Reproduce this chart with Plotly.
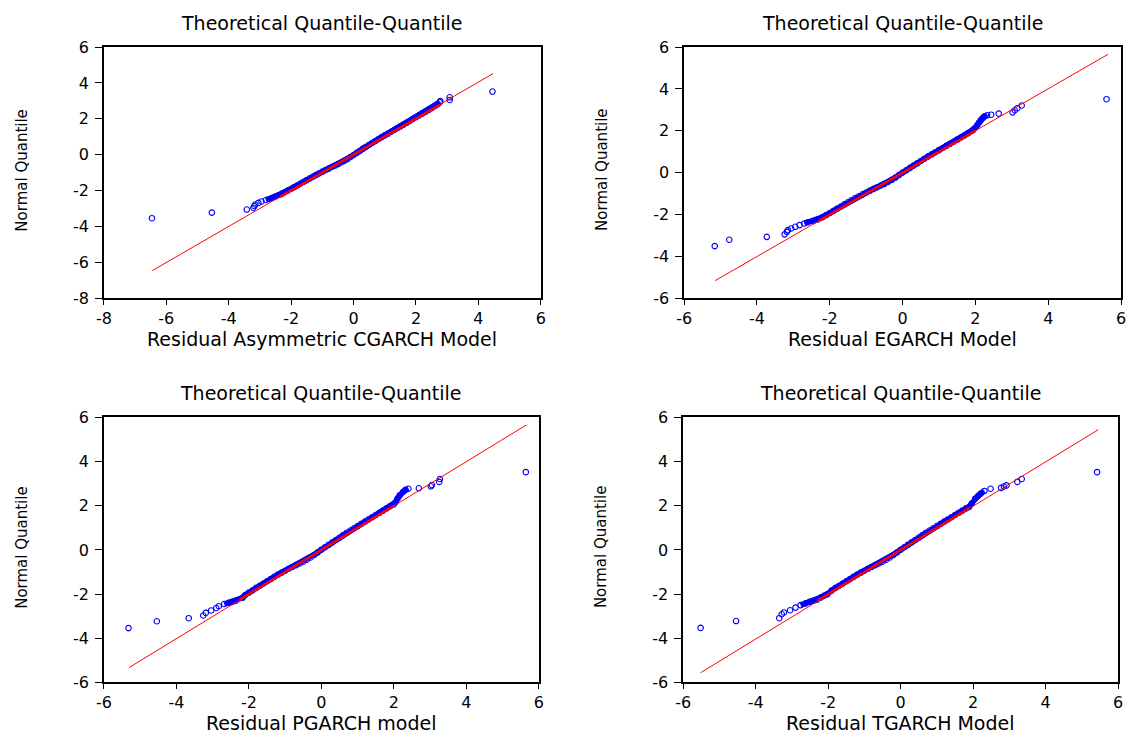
import plotly.graph_objects as go

# ---------------------------------------------------------------
# Q-Q data: sorted model residuals (x) against normal quantiles (y)
# ---------------------------------------------------------------

# Asymmetric CGARCH
cgarch_resid = [-6.46, -4.54, -3.42, -3.21, -3.18, -3.15, -3.05, -2.95, -2.81, -2.70,
                -2.60, -2.50, -2.40, -2.30, -2.20, -2.10, -2.00, -1.90, -1.80, -1.70,
                -1.60, -1.50, -1.40, -1.30, -1.20, -1.10, -1.00, -0.90, -0.80, -0.70,
                -0.60, -0.50, -0.40, -0.30, -0.20, -0.10, 0.00, 0.10, 0.20, 0.30,
                0.40, 0.50, 0.60, 0.70, 0.80, 0.90, 1.00, 1.10, 1.20, 1.30,
                1.40, 1.50, 1.60, 1.70, 1.80, 1.90, 2.00, 2.10, 2.20, 2.30,
                2.40, 2.50, 2.60, 2.70, 2.76, 2.78, 3.08, 3.08, 4.45]
cgarch_normq = [-3.53, -3.22, -3.05, -2.95, -2.85, -2.77, -2.68, -2.60, -2.52, -2.46,
                -2.39, -2.32, -2.24, -2.16, -2.07, -1.98, -1.89, -1.80, -1.70, -1.60,
                -1.50, -1.41, -1.31, -1.21, -1.12, -1.03, -0.94, -0.85, -0.77, -0.68,
                -0.60, -0.52, -0.43, -0.34, -0.24, -0.12, -0.01, 0.11, 0.22, 0.34,
                0.45, 0.56, 0.67, 0.77, 0.88, 0.98, 1.08, 1.18, 1.28, 1.38,
                1.48, 1.58, 1.68, 1.78, 1.88, 1.99, 2.09, 2.19, 2.29, 2.39,
                2.49, 2.59, 2.70, 2.82, 2.93, 2.99, 3.05, 3.20, 3.52]
cgarch_line_x = [-6.45, 4.47]
cgarch_line_y = [-6.45, 4.52]
cgarch_core_x = [-2.35, 2.75]
cgarch_core_y = [-2.35, 2.76]
cgarch_dense = [-2.85, 2.76]

# EGARCH
egarch_resid = [-5.16, -4.76, -3.73, -3.24, -3.18, -3.15, -3.06, -2.95, -2.83, -2.70,
                -2.60, -2.45, -2.33, -2.20, -2.10, -2.00, -1.90, -1.80, -1.70, -1.60,
                -1.50, -1.40, -1.30, -1.20, -1.10, -1.00, -0.90, -0.80, -0.70, -0.60,
                -0.50, -0.40, -0.30, -0.20, -0.10, 0.00, 0.10, 0.20, 0.30, 0.40,
                0.50, 0.60, 0.70, 0.80, 0.90, 1.00, 1.10, 1.20, 1.30, 1.40,
                1.50, 1.60, 1.70, 1.80, 1.90, 1.95, 2.00, 2.05, 2.10, 2.15,
                2.20, 2.25, 2.32, 2.43, 2.64, 3.02, 3.08, 3.15, 3.27, 5.60]
egarch_normq = [-3.50, -3.20, -3.06, -2.94, -2.82, -2.74, -2.66, -2.58, -2.50, -2.42,
                -2.36, -2.30, -2.23, -2.12, -2.02, -1.92, -1.82, -1.71, -1.61, -1.51,
                -1.41, -1.31, -1.21, -1.12, -1.03, -0.94, -0.85, -0.77, -0.69, -0.61,
                -0.53, -0.44, -0.34, -0.23, -0.11, 0.01, 0.12, 0.23, 0.34, 0.45,
                0.56, 0.67, 0.78, 0.88, 0.98, 1.08, 1.18, 1.28, 1.38, 1.48,
                1.58, 1.68, 1.78, 1.89, 2.00, 2.07, 2.16, 2.27, 2.40, 2.52,
                2.62, 2.69, 2.74, 2.77, 2.82, 2.88, 2.98, 3.08, 3.21, 3.51]
egarch_line_x = [-5.15, 5.64]
egarch_line_y = [-5.15, 5.65]
egarch_core_x = [-2.30, 2.00]
egarch_core_y = [-2.30, 2.00]
egarch_dense = [-2.75, 2.33]

# PGARCH
pgarch_resid = [-5.32, -4.54, -3.66, -3.26, -3.19, -3.04, -2.90, -2.83, -2.68, -2.56,
                -2.46, -2.36, -2.17, -2.10, -2.00, -1.90, -1.80, -1.70, -1.60, -1.50,
                -1.40, -1.30, -1.20, -1.10, -1.00, -0.90, -0.80, -0.70, -0.60, -0.50,
                -0.40, -0.30, -0.20, -0.10, 0.00, 0.10, 0.20, 0.30, 0.40, 0.50,
                0.60, 0.70, 0.80, 0.90, 1.00, 1.10, 1.20, 1.30, 1.40, 1.50,
                1.60, 1.70, 1.80, 1.90, 2.00, 2.05, 2.10, 2.16, 2.25, 2.32,
                2.40, 2.69, 3.02, 3.05, 3.25, 3.27, 5.64]
pgarch_normq = [-3.54, -3.23, -3.09, -2.97, -2.85, -2.74, -2.63, -2.55, -2.45, -2.39,
                -2.35, -2.30, -2.16, -2.04, -1.93, -1.83, -1.72, -1.62, -1.52, -1.42,
                -1.32, -1.22, -1.12, -1.03, -0.94, -0.85, -0.77, -0.69, -0.61, -0.53,
                -0.44, -0.34, -0.23, -0.11, 0.01, 0.12, 0.23, 0.34, 0.45, 0.56,
                0.67, 0.78, 0.88, 0.98, 1.08, 1.18, 1.28, 1.38, 1.48, 1.58,
                1.68, 1.78, 1.88, 1.98, 2.06, 2.17, 2.32, 2.47, 2.62, 2.72,
                2.77, 2.79, 2.88, 2.94, 3.08, 3.21, 3.52]
pgarch_line_x = [-5.31, 5.65]
pgarch_line_y = [-5.33, 5.65]
pgarch_core_x = [-2.25, 2.00]
pgarch_core_y = [-2.25, 2.00]
pgarch_dense = [-2.70, 2.41]

# TGARCH
tgarch_resid = [-5.52, -4.54, -3.35, -3.28, -3.22, -3.05, -2.90, -2.76, -2.62, -2.51,
                -2.40, -2.31, -2.20, -2.10, -2.02, -1.90, -1.80, -1.70, -1.60, -1.50,
                -1.40, -1.30, -1.20, -1.10, -1.00, -0.90, -0.80, -0.70, -0.60, -0.50,
                -0.40, -0.30, -0.20, -0.10, 0.00, 0.10, 0.20, 0.30, 0.40, 0.50,
                0.60, 0.70, 0.80, 0.90, 1.00, 1.10, 1.20, 1.30, 1.40, 1.50,
                1.60, 1.70, 1.80, 1.89, 1.96, 2.06, 2.14, 2.21, 2.31, 2.48,
                2.77, 2.85, 2.92, 3.22, 3.34, 5.42]
tgarch_normq = [-3.53, -3.22, -3.09, -2.91, -2.83, -2.73, -2.61, -2.50, -2.42, -2.35,
                -2.30, -2.25, -2.15, -2.06, -2.00, -1.83, -1.72, -1.62, -1.52, -1.42,
                -1.32, -1.22, -1.12, -1.03, -0.94, -0.85, -0.77, -0.69, -0.61, -0.53,
                -0.44, -0.34, -0.23, -0.11, 0.01, 0.12, 0.23, 0.34, 0.45, 0.56,
                0.67, 0.78, 0.88, 0.98, 1.08, 1.18, 1.28, 1.38, 1.48, 1.58,
                1.68, 1.78, 1.88, 1.95, 2.10, 2.33, 2.45, 2.55, 2.67, 2.77,
                2.81, 2.87, 2.92, 3.08, 3.21, 3.52]
tgarch_line_x = [-5.52, 5.45]
tgarch_line_y = [-5.56, 5.44]
tgarch_core_x = [-2.30, 1.90]
tgarch_core_y = [-2.31, 1.90]
tgarch_dense = [-2.80, 2.40]

panel_titles = ["Theoretical Quantile-Quantile"] * 4
x_titles = ["Residual Asymmetric CGARCH Model", "Residual EGARCH Model",
            "Residual PGARCH model", "Residual TGARCH Model"]
y_title = "Normal Quantile"

x_ranges = [[-8, 6], [-6, 6], [-6, 6], [-6, 6]]
y_ranges = [[-8, 6], [-6, 6], [-6, 6], [-6, 6]]
tick_values = [-8, -6, -4, -2, 0, 2, 4, 6]
tick_labels = ["-8", "-6", "-4", "-2", "0", "2", "4", "6"]

panels = [
    (cgarch_resid, cgarch_normq, cgarch_line_x, cgarch_line_y, cgarch_core_x, cgarch_core_y, cgarch_dense),
    (egarch_resid, egarch_normq, egarch_line_x, egarch_line_y, egarch_core_x, egarch_core_y, egarch_dense),
    (pgarch_resid, pgarch_normq, pgarch_line_x, pgarch_line_y, pgarch_core_x, pgarch_core_y, pgarch_dense),
    (tgarch_resid, tgarch_normq, tgarch_line_x, tgarch_line_y, tgarch_core_x, tgarch_core_y, tgarch_dense),
]

W, H = 1134, 749
# plot-area boxes in pixels: left, right, top, bottom
boxes = [(97, 539, 39, 297), (684, 1126, 39, 297),
         (97, 537, 419, 691), (683, 1123, 419, 691)]

FONT = "DejaVu Sans, Liberation Sans, Arial, sans-serif"
BLUE = "#0000ff"
RED = "#ff0000"

fig = go.Figure()
layout = dict(width=W, height=H, margin=dict(l=0, r=0, t=0, b=0),
              paper_bgcolor="white", plot_bgcolor="white", showlegend=False,
              font=dict(family=FONT, color="black"))
annotations = []

for i, (xs, ys, lx, ly, cx, cy, dense) in enumerate(panels):
    n = "" if i == 0 else str(i + 1)
    xa, ya = "x" + n, "y" + n

    # the crowded middle of the sample, where the circles merge into a band
    bx = [x for x in xs if dense[0] <= x <= dense[1]]
    by = [y for x, y in zip(xs, ys) if dense[0] <= x <= dense[1]]
    fig.add_trace(go.Scatter(x=bx, y=by, mode="lines", xaxis=xa, yaxis=ya,
                             line=dict(color=BLUE, width=5.5), hoverinfo="skip"))
    fig.add_trace(go.Scatter(x=xs, y=ys, mode="markers", xaxis=xa, yaxis=ya,
                             marker=dict(symbol="circle-open", size=5.5, color=BLUE,
                                         line=dict(width=1.1, color=BLUE)),
                             hoverinfo="skip"))
    fig.add_trace(go.Scatter(x=lx, y=ly, mode="lines", xaxis=xa, yaxis=ya,
                             line=dict(color=RED, width=1), hoverinfo="skip"))
    fig.add_trace(go.Scatter(x=cx, y=cy, mode="lines", xaxis=xa, yaxis=ya,
                             line=dict(color=RED, width=2.6), hoverinfo="skip"))

    l, r, t, b = boxes[i]
    dom_x = [l / W, r / W]
    dom_y = [1 - b / H, 1 - t / H]
    axis_common = dict(showline=True, mirror=True, linecolor="black", linewidth=1.5,
                       showgrid=False, zeroline=False, ticks="outside",
                       tickwidth=1, tickcolor="black",
                       tickmode="array", tickvals=tick_values, ticktext=tick_labels,
                       tickfont=dict(family=FONT, size=16, color="black"))
    layout["xaxis" + n] = dict(axis_common, domain=dom_x, range=x_ranges[i],
                               anchor=ya, ticklen=5)
    layout["yaxis" + n] = dict(axis_common, domain=dom_y, range=y_ranges[i],
                               anchor=xa, ticklen=7, ticklabelstandoff=3)

    cxp = (l + r) / 2
    annotations.append(dict(text=panel_titles[i], x=cxp / W, y=1 - (t - 25) / H,
                            xref="paper", yref="paper", showarrow=False,
                            xanchor="center", yanchor="middle",
                            font=dict(family=FONT, size=19, color="black")))
    annotations.append(dict(text=x_titles[i], x=cxp / W, y=1 - (b + 42) / H,
                            xref="paper", yref="paper", showarrow=False,
                            xanchor="center", yanchor="middle",
                            font=dict(family=FONT, size=19, color="black")))
    annotations.append(dict(text=y_title, x=(l - 83) / W, y=1 - ((t + b) / 2 - 3) / H,
                            xref="paper", yref="paper", showarrow=False, textangle=-90,
                            xanchor="center", yanchor="middle",
                            font=dict(family=FONT, size=15, color="black")))

layout["annotations"] = annotations
fig.update_layout(**layout)
fig.write_html("out.html")
